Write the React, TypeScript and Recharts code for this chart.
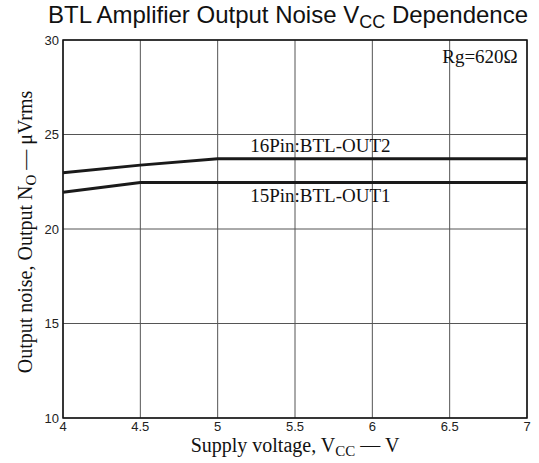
import {
  CartesianGrid,
  Line,
  LineChart,
  ReferenceArea,
  ReferenceDot,
  XAxis,
  YAxis,
} from "recharts";

// Supply voltage (V) and output noise (µVrms)
const supplyVoltage = [4, 4.5, 5, 5.5, 6, 6.5, 7];
const out2Noise = [22.97, 23.38, 23.72, 23.72, 23.72, 23.72, 23.72];
const out1Noise = [21.95, 22.46, 22.46, 22.46, 22.46, 22.46, 22.46];

const xTicks = [4, 4.5, 5, 5.5, 6, 6.5, 7];
const yTicks = [10, 15, 20, 25, 30];

const SERIF = "'Liberation Serif', 'Times New Roman', serif";
const SANS = "'Liberation Sans', Arial, sans-serif";

const rows = supplyVoltage.map((v, i) => ({
  vcc: v,
  out2: out2Noise[i],
  out1: out1Noise[i],
}));

function XTick(props: any) {
  const { x, y, payload } = props;
  return (
    <text x={x} y={y} dy="0.72em" textAnchor="middle" fontFamily={SANS} fontSize={13} fill="#222">
      {payload.value}
    </text>
  );
}

function YTick(props: any) {
  const { x, y, payload } = props;
  return (
    <text x={x} y={y} dy="0.36em" textAnchor="end" fontFamily={SANS} fontSize={13} fill="#222">
      {payload.value}
    </text>
  );
}

function XTitle(props: any) {
  const vb = props.viewBox;
  return (
    <text x={vb.x + vb.width / 2} y={vb.y + 34} textAnchor="middle" fontFamily={SERIF} fontSize={20} fill="#111">
      Supply voltage, V
      <tspan fontSize={15} dy={4}>CC</tspan>
      <tspan dy={-4}> — V</tspan>
    </text>
  );
}

function YTitle(props: any) {
  const vb = props.viewBox;
  const cx = vb.x + 9;
  const cy = vb.y + vb.height / 2 + 3;
  return (
    <text
      x={cx}
      y={cy}
      transform={`rotate(-90 ${cx} ${cy})`}
      textAnchor="middle"
      fontFamily={SERIF}
      fontSize={20}
      fill="#111"
    >
      Output noise, Output N
      <tspan fontSize={15} dy={4}>O</tspan>
      <tspan dy={-4}> — μVrms</tspan>
    </text>
  );
}

function note(text: string, anchor: "start" | "end") {
  return (props: any) => {
    const vb = props.viewBox;
    const cx = vb.x + vb.width / 2;
    const cy = vb.y + vb.height / 2;
    return (
      <text x={cx} y={cy} dy="0.35em" textAnchor={anchor} fontFamily={SERIF} fontSize={19} fill="#111">
        {text}
      </text>
    );
  };
}

export default function App() {
  return (
    <div style={{ position: "absolute", left: 0, top: 0, width: 539, height: 463, background: "#fff" }}>
      <svg
        width={539}
        height={40}
        style={{ position: "absolute", left: 0, top: 0 }}
      >
        <text x={288} y={23} textAnchor="middle" fontFamily={SANS} fontSize={24} fill="#111">
          BTL Amplifier Output Noise V
          <tspan fontSize={18} dy={5}>CC</tspan>
          <tspan dy={-5}> Dependence</tspan>
        </text>
      </svg>
      <LineChart
        width={539}
        height={463}
        data={rows}
        margin={{ top: 40, right: 12, left: 23, bottom: 15 }}
      >
        <CartesianGrid stroke="#555" strokeWidth={1} horizontalValues={yTicks} verticalValues={xTicks} />
        <XAxis
          dataKey="vcc"
          type="number"
          domain={[4, 7]}
          ticks={xTicks}
          height={30}
          tickLine={false}
          axisLine={false}
          tickSize={0}
          tickMargin={4}
          tick={<XTick />}
          label={{ content: XTitle }}
        />
        <YAxis
          type="number"
          domain={[10, 30]}
          ticks={yTicks}
          width={40}
          tickLine={false}
          axisLine={false}
          tickSize={0}
          tickMargin={4}
          tick={<YTick />}
          label={{ content: YTitle }}
        />
        <ReferenceArea x1={4} x2={7} y1={10} y2={30} fill="none" stroke="#111" strokeWidth={1.5} />
        <Line
          dataKey="out2"
          type="linear"
          stroke="#1a1a1a"
          strokeWidth={3}
          dot={false}
          isAnimationActive={false}
        />
        <Line
          dataKey="out1"
          type="linear"
          stroke="#1a1a1a"
          strokeWidth={3}
          dot={false}
          isAnimationActive={false}
        />
        <ReferenceDot x={5.21} y={24.41} r={1} fill="none" stroke="none" label={{ content: note("16Pin:BTL-OUT2", "start") }} />
        <ReferenceDot x={5.21} y={21.76} r={1} fill="none" stroke="none" label={{ content: note("15Pin:BTL-OUT1", "start") }} />
        <ReferenceDot x={6.94} y={29.12} r={1} fill="none" stroke="none" label={{ content: note("Rg=620Ω", "end") }} />
      </LineChart>
    </div>
  );
}
